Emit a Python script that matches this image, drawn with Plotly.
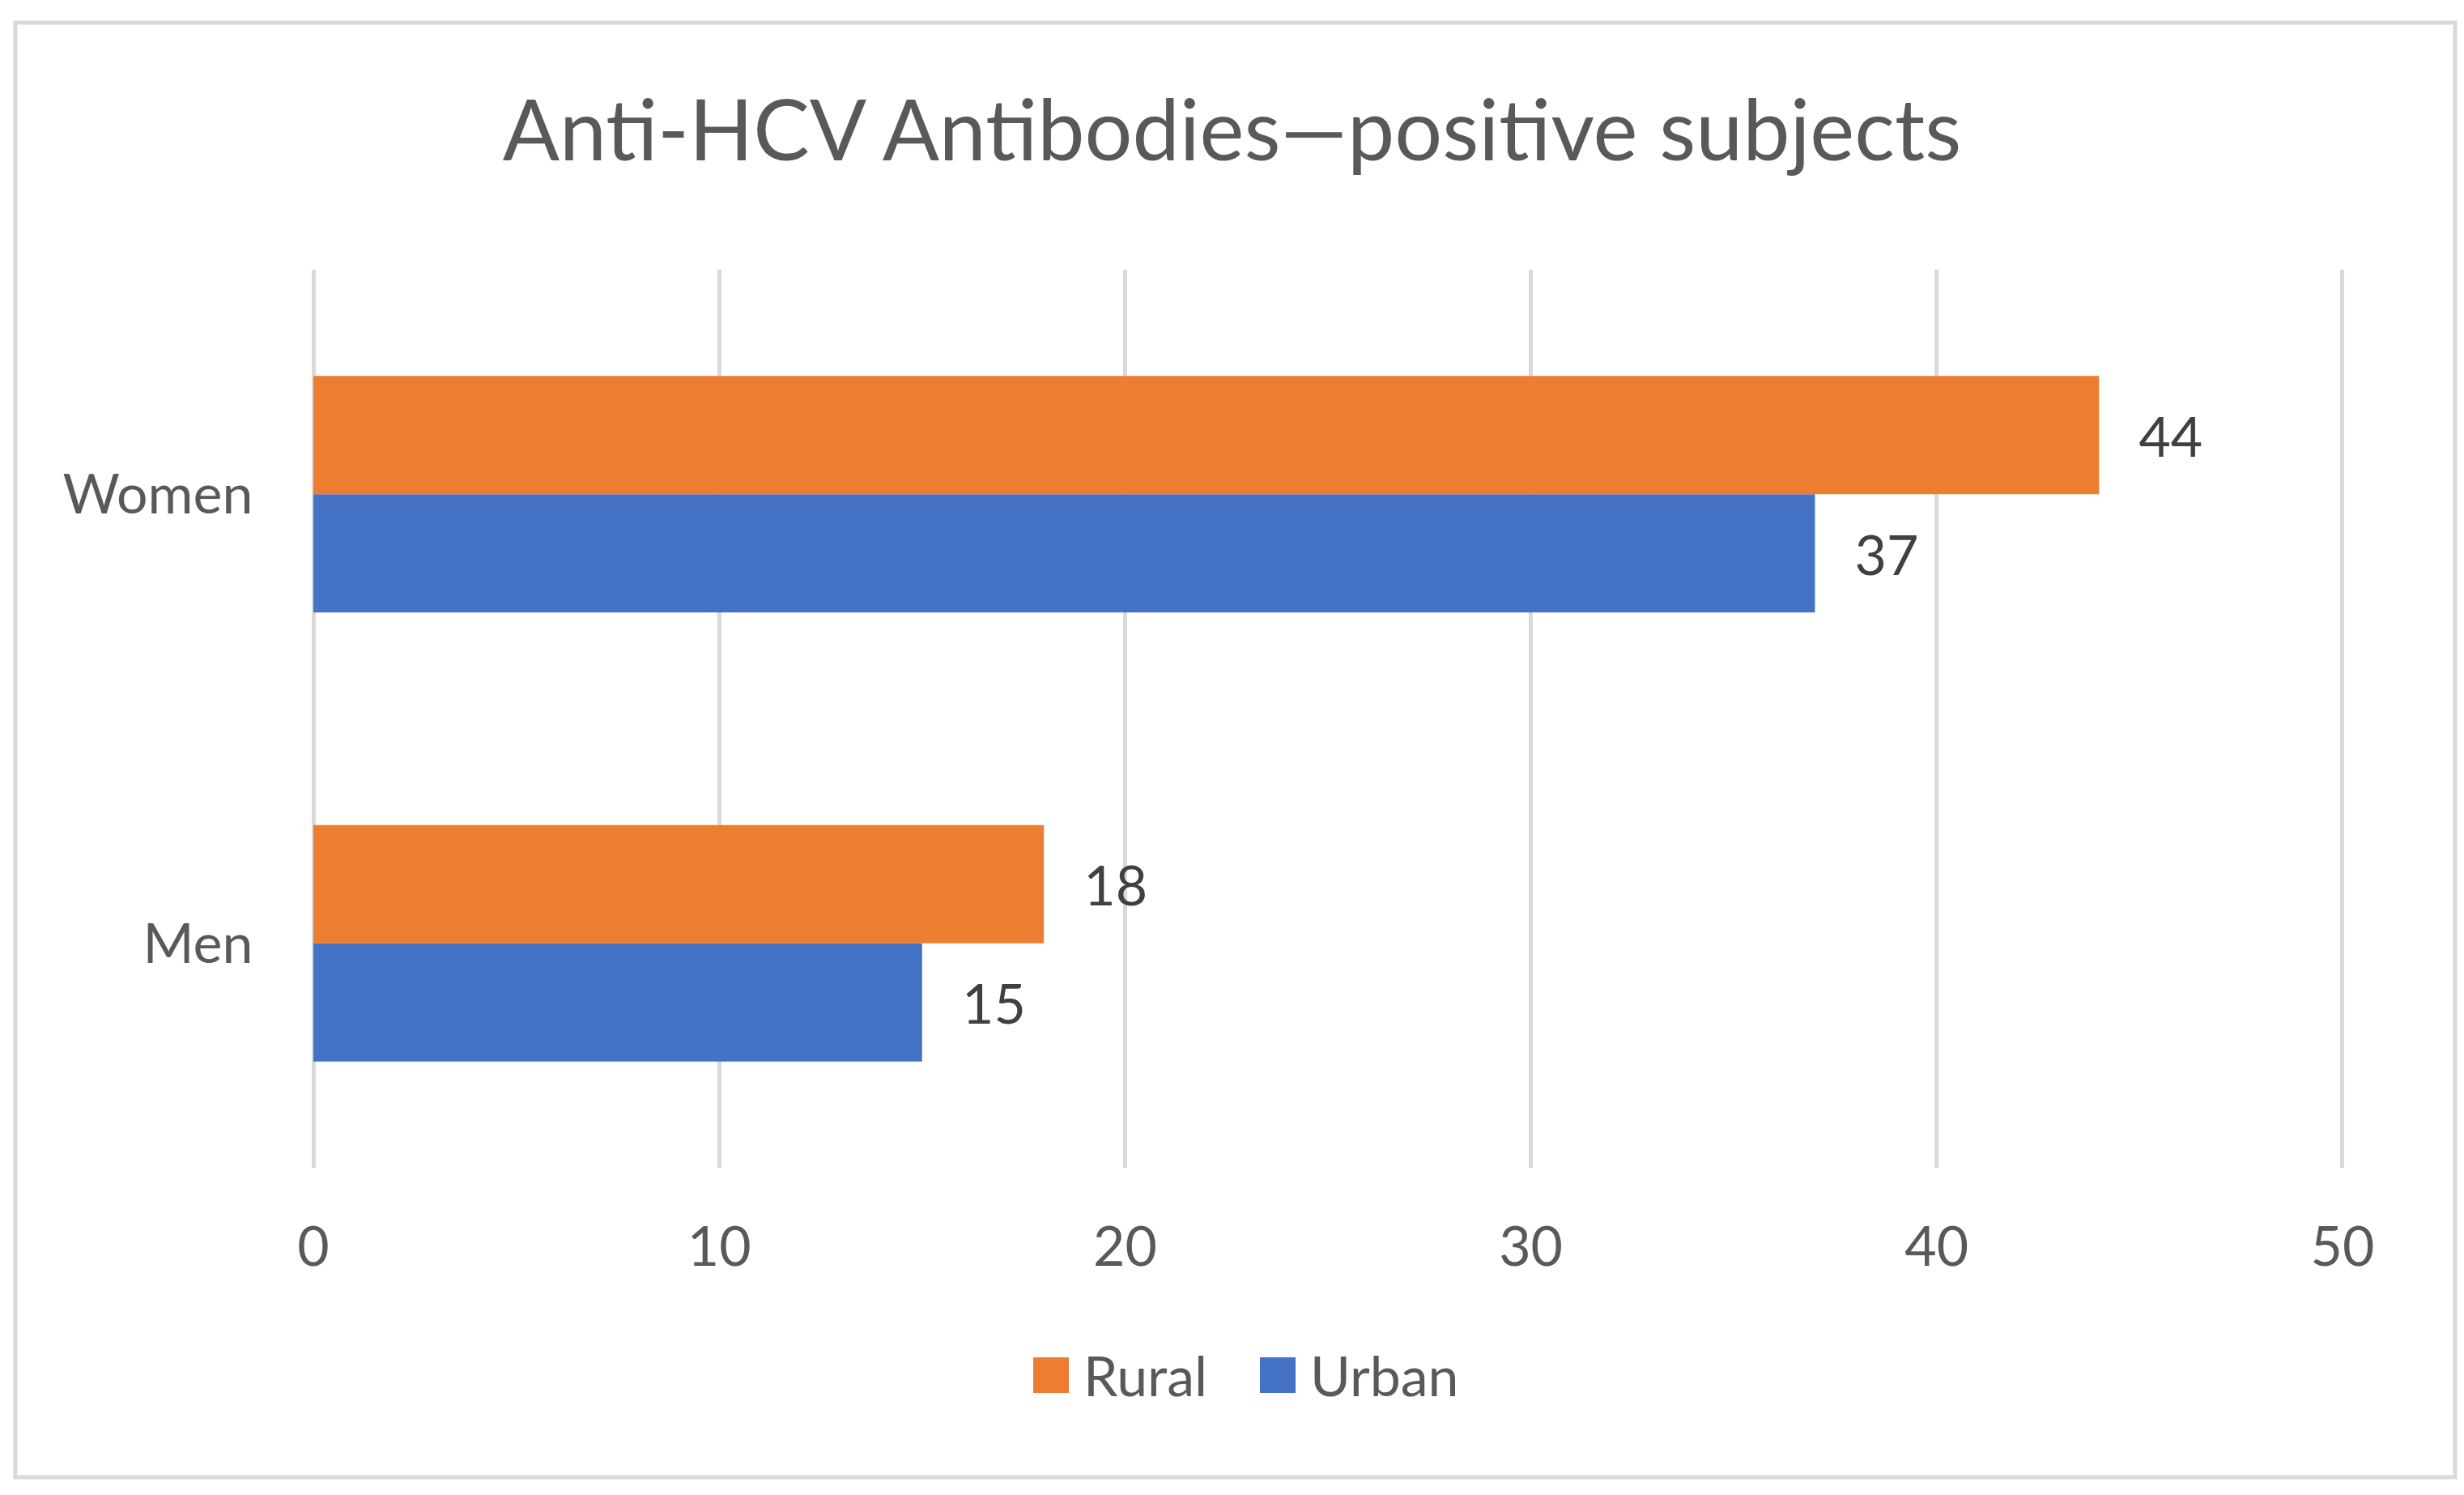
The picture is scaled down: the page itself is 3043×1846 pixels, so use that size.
import plotly.graph_objects as go

# ---- data ----
categories = ["Men", "Women"]
series_names = ["Rural", "Urban"]
rural_values = [18, 44]
urban_values = [15, 37]
series_colors = ["#ED7D31", "#4472C4"]
x_ticks = [0, 10, 20, 30, 40, 50]
title_text = "Anti-HCV Antibodies\u2014positive subjects"

# ---- layout geometry (pixels) ----
W, H = 3043, 1846
PAD = 0.06  # small range padding so the 0 and 50 gridlines are drawn
X0_PX, X50_PX = 387, 2893
UNIT = (X50_PX - X0_PX) / 50.0
L = round(X0_PX - PAD * UNIT)
R = round(W - (X50_PX + PAD * UNIT))
T, B = 333, 404
PW, PH = W - L - R, H - T - B


def px_x(p):
    return (p - L) / PW


def px_y(p):
    return (H - B - p) / PH


FONT = "Lato"
GREY = "#595959"

fig = go.Figure()
# Urban first so it sits below Rural inside each group
for name, vals, col in [(series_names[1], urban_values, series_colors[1]),
                        (series_names[0], rural_values, series_colors[0])]:
    fig.add_trace(go.Bar(
        y=categories, x=vals, name=name, orientation="h",
        marker=dict(color=col, line=dict(width=0)),
        texttemplate="\u00a0\u00a0\u2006%{x}", textposition="outside",
        textfont=dict(family=FONT, size=68, color="#404040"),
        cliponaxis=False, showlegend=False,
    ))

shapes = [dict(type="rect", xref="paper", yref="paper",
               x0=px_x(19), x1=px_x(3032), y0=px_y(1824), y1=px_y(28),
               line=dict(color="#D9D9D9", width=5), fillcolor="rgba(0,0,0,0)",
               layer="below")]
annotations = []
# legend (large square swatches like the original)
leg_sq_x = [1276, 1556]
leg_txt_x = [1336, 1616]
for i, name in enumerate(series_names):
    shapes.append(dict(type="rect", xref="paper", yref="paper",
                       x0=px_x(leg_sq_x[i]), x1=px_x(leg_sq_x[i] + 44),
                       y0=px_y(1720), y1=px_y(1676),
                       fillcolor=series_colors[i], line=dict(width=0)))
    annotations.append(dict(xref="paper", yref="paper", x=px_x(leg_txt_x[i]),
                            y=px_y(1697), xanchor="left", yanchor="middle",
                            text=name, showarrow=False,
                            font=dict(family=FONT, size=68, color=GREY)))

fig.update_layout(
    width=W, height=H,
    margin=dict(l=L, r=R, t=T, b=B, pad=0),
    paper_bgcolor="white", plot_bgcolor="white",
    barmode="group", bargap=0.473, bargroupgap=0,
    title=dict(text=title_text, x=0.5, xanchor="center", xref="container",
               y=1 - 162 / H, yanchor="middle", yref="container",
               font=dict(family=FONT, size=104, color=GREY)),
    xaxis=dict(range=[-PAD, 50 + PAD], tickvals=x_ticks, showgrid=True,
               gridcolor="#D9D9D9", gridwidth=5, zeroline=False,
               showline=False, ticks="outside", ticklen=38,
               tickcolor="rgba(0,0,0,0)",
               tickfont=dict(family=FONT, size=68, color=GREY)),
    yaxis=dict(categoryorder="array", categoryarray=categories,
               showgrid=False, zeroline=False, showline=False,
               ticks="outside", ticklen=57, tickcolor="rgba(0,0,0,0)",
               tickfont=dict(family=FONT, size=68, color=GREY)),
    shapes=shapes, annotations=annotations,
    showlegend=False,
)

fig.write_html("out.html", config={"displayModeBar": False},
               post_script="document.body.style.margin='0';")
